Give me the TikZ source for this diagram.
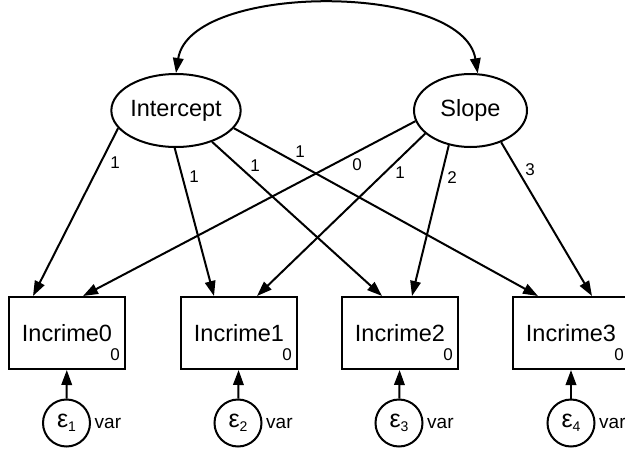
\documentclass[tikz,border=0pt]{standalone}
\usepackage{fontspec}
\setmainfont{Liberation Sans}
\usetikzlibrary{arrows.meta,calc,shapes.geometric}
\tikzset{
  lat/.style={ellipse,draw,line width=2pt,inner sep=0pt,minimum width=116pt,minimum height=73pt,font=\fontsize{23.5}{23.5}\selectfont},
  obs/.style={rectangle,draw,line width=2pt,minimum width=116pt,minimum height=72pt,inner sep=0pt,font=\fontsize{23.5}{23.5}\selectfont},
  errc/.style={circle,draw,line width=2pt,minimum size=47pt,inner sep=0pt},
  pth/.style={line width=2pt,-{Triangle[length=15pt,width=10.5pt]}},
  dbl/.style={line width=2pt,{Triangle[length=15pt,width=10.5pt]}-{Triangle[length=15pt,width=10.5pt]}},
  lab/.style={font=\fontsize{17}{17}\selectfont,inner sep=0pt},
  cst/.style={font=\fontsize{17}{17}\selectfont,inner sep=0pt},
  varl/.style={font=\fontsize{19}{19}\selectfont,inner sep=0pt,anchor=west},
}
\newcommand{\epsl}[1]{{\fontsize{25}{25}\selectfont ε}\raisebox{-4pt}{\fontsize{14}{14}\selectfont #1}}
\begin{document}
\begin{tikzpicture}[x=1pt,y=-1pt]
\useasboundingbox (0,0) rectangle (625,450);
% latent
\node[lat] (I) at (176,110.5) {Intercept};
\node[lat,minimum width=113pt] (S) at (470.5,110.5) {Slope};
% observed
\node[obs] (b0) at (67,333) {Incrime0};
\node[obs] (b1) at (239,333) {Incrime1};
\node[obs] (b2) at (400,333) {Incrime2};
\node[obs] (b3) at (571,333) {Incrime3};
\node[cst] (c0) at ($(b0.south east)+(-11,-15)$) {0};
\node[cst] (c1) at ($(b1.south east)+(-11,-15)$) {0};
\node[cst] (c2) at ($(b2.south east)+(-11,-15)$) {0};
\node[cst] (c3) at ($(b3.south east)+(-11,-15)$) {0};
% errors
\node[errc] (e1) at (66.5,423) {\epsl{1}};
\node[errc] (e2) at (238,423) {\epsl{2}};
\node[errc] (e3) at (399,423) {\epsl{3}};
\node[errc] (e4) at (571,423) {\epsl{4}};
\node[varl] (v1) at ($(e1.east)+(3.5,0)$) {var};
\node[varl] (v2) at ($(e2.east)+(3.5,0)$) {var};
\node[varl] (v3) at ($(e3.east)+(3.5,0)$) {var};
\node[varl] (v4) at ($(e4.east)+(3.5,0)$) {var};
\draw[pth] (e1) -- (b0);
\draw[pth] (e2) -- (b1);
\draw[pth] (e3) -- (b2);
\draw[pth] (e4) -- (b3);
% covariance
\draw[dbl] (I.north) .. controls (190,-18) and (463,-18) .. (S.79);
% loadings from Intercept
\draw[pth] (I.197) -- ($(b0.north)+(-34,0)$);
\draw[pth] (I.268) -- ($(b1.north)+(-25,0)$);
\draw[pth] (I.319) -- ($(b2.north)+(-18,0)$);
\draw[pth] (I.343) -- ($(b3.north)+(-33,0)$);
% loadings from Slope
\draw[pth] (S.191) -- ($(b0.north)+(16,0)$);
\draw[pth] (S.207) -- ($(b1.north)+(18,0)$);
\draw[pth] (S.238) -- ($(b2.north)+(12,0)$);
\draw[pth] (S.314) -- ($(b3.north)+(21,0)$);
% labels
\node[lab] (l1) at (115,163) {1};
\node[lab] (l2) at (194,177) {1};
\node[lab] (l3) at (255,166) {1};
\node[lab] (l4) at (300,152) {1};
\node[lab] (l5) at (357,165) {0};
\node[lab] (l6) at (400,173) {1};
\node[lab] (l7) at (452,178) {2};
\node[lab] (l8) at (530,170) {3};
\end{tikzpicture}
\end{document}
